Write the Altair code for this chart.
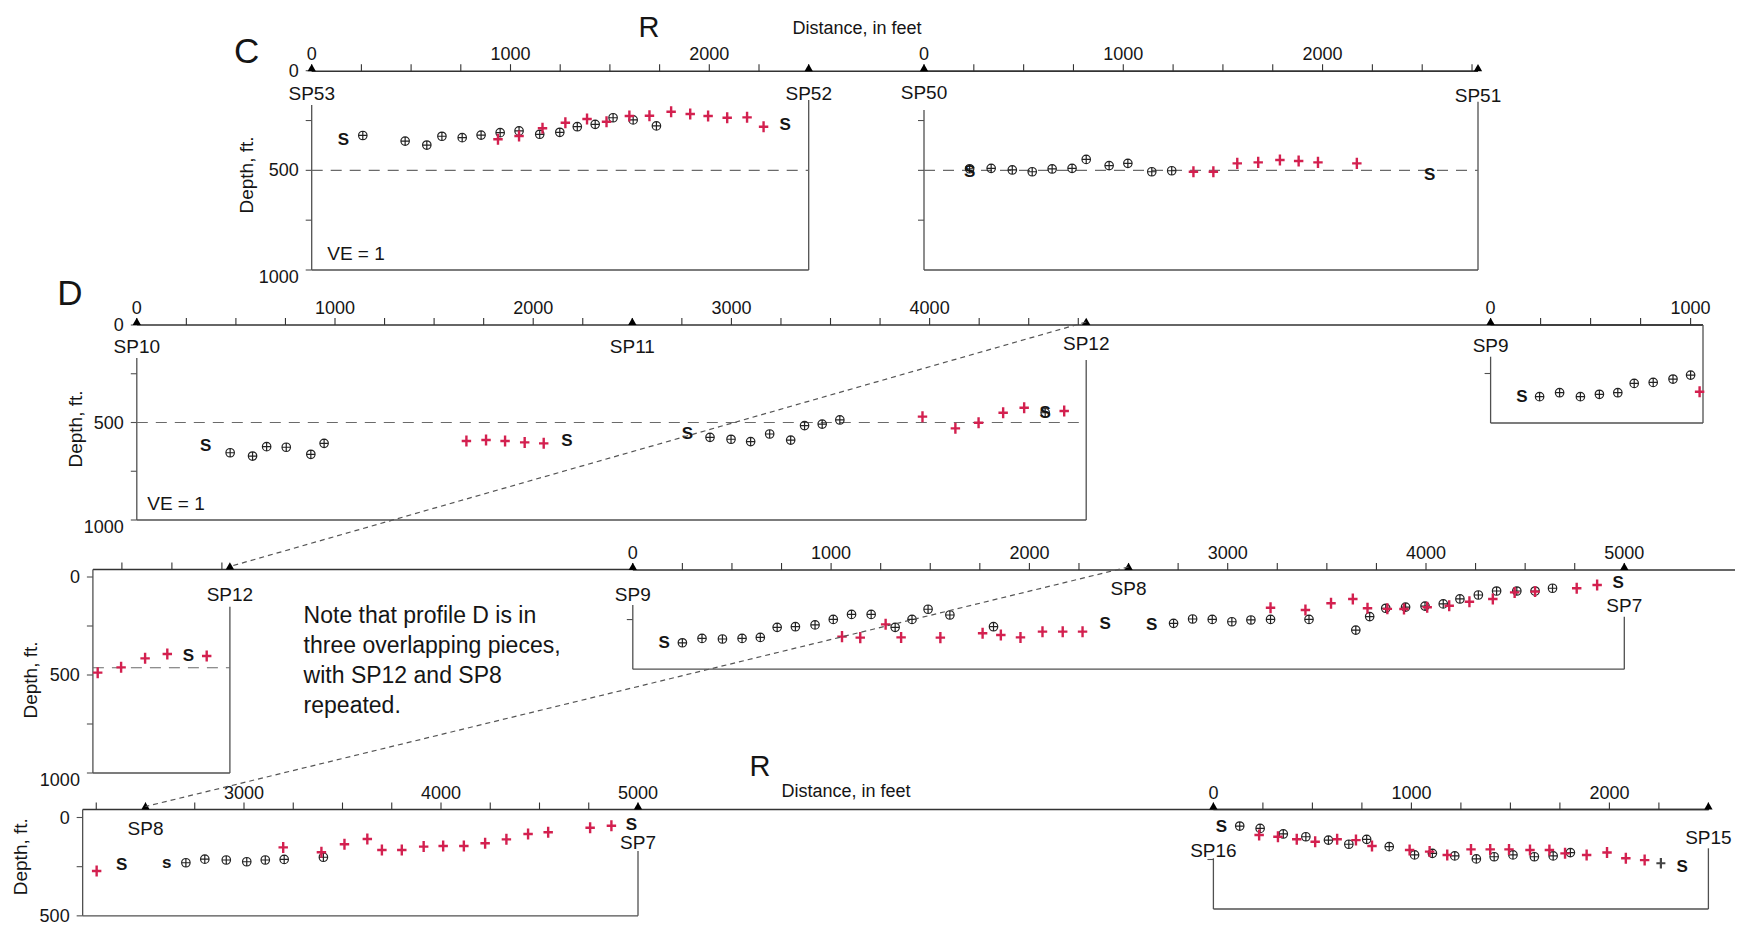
import altair as alt
import pandas as pd

OFF = 8            # page margin: the chart origin sits at page (8, 8)
W, H = 1727, 918

FONT = "Liberation Sans"
INK = "#151515"
AXIS = "#333333"
FRAME = "#505050"
DASH = "#6a6a6a"
RED = "#d3204f"
DARK = "#222222"
CIRC_PATH = "M-1,0A1,1 0 1,1 1,0A1,1 0 1,1 -1,0M-1,0L1,0M0,-1L0,1"
PLUS_PATH = "M-0.9,0L0.9,0M0,-1.05L0,1.05"

# ================= DATA (distance along profile in ft, depth in ft) =================
# Profile C, SP53 -> SP52
cl_circ_ft = [257, 470, 579, 655, 757, 852, 948, 1043, 1147, 1248, 1336, 1426, 1516, 1617, 1734]
cl_circ_d = [325, 353, 373, 329, 336, 323, 311, 302, 319, 309, 281, 269, 236, 247, 277]
cl_plus_ft = [937, 1043, 1161, 1276, 1385, 1483, 1598, 1699, 1808, 1904, 1994, 2090, 2190, 2273]
cl_plus_d = [344, 328, 289, 261, 242, 256, 227, 226, 206, 217, 227, 236, 234, 281]
cl_s_ft = [160, 2382]
cl_s_d = [348, 272]
cl_sp = ["SP53", "SP52"]
cl_sp_ft = [0, 2500]

# Profile C, SP50 -> SP51
cr_circ_ft = [229, 337, 443, 543, 643, 743, 814, 929, 1023, 1143, 1243]
cr_circ_d = [492, 490, 498, 507, 493, 490, 445, 476, 465, 507, 502]
cr_plus_ft = [1352, 1452, 1572, 1677, 1786, 1880, 1977, 2172]
cr_plus_d = [507, 507, 465, 460, 448, 453, 460, 465]
cr_s_ft = [229, 2537]
cr_s_d = [508, 523]
cr_sp = ["SP50", "SP51"]
cr_sp_ft = [0, 2780]

# Profile D, SP10 -> SP12
d1_circ_ft = [471, 584, 655, 754, 878, 945, 2892, 2998, 3097, 3193, 3299, 3369, 3458, 3547, 4583]
d1_circ_d = [655, 672, 624, 627, 663, 607, 576, 586, 598, 559, 590, 516, 508, 487, 450]
d1_plus_ft = [1663, 1762, 1858, 1957, 2053, 3964, 4130, 4247, 4371, 4477, 4679]
d1_plus_d = [595, 590, 595, 602, 607, 470, 530, 501, 450, 424, 441]
d1_s_ft = [347, 2170, 2778, 4583]
d1_s_d = [619, 595, 560, 453]
d1_sp = ["SP10", "SP11", "SP12"]
d1_sp_ft = [0, 2500, 4790]

# Profile D, SP9 start (row 2, right)
d2_circ_ft = [245, 345, 449, 544, 636, 718, 813, 912, 1000]
d2_circ_d = [367, 347, 367, 355, 347, 300, 295, 278, 258]
d2_plus_ft = [1045]
d2_plus_d = [342]
d2_s_ft = [157]
d2_s_d = [370]
d2_sp = ["SP9"]
d2_sp_ft = [0]

# Profile D, end of SP10-SP12 piece repeated (row 3, left)
r3s_plus_ft = [4129, 4246, 4366, 4477, 4674]
r3s_plus_d = [488, 461, 415, 393, 403]
r3s_s_ft = [4582]
r3s_s_d = [403]
r3s_sp = ["SP12"]
r3s_sp_ft = [4790]

# Profile D, SP9 -> SP7 (row 3)
r3b_circ_ft = [250, 349, 452, 551, 643, 728, 820, 919, 1011, 1103, 1202, 1323, 1408, 1489, 1599,
               1819, 2727, 2823, 2922, 3021, 3117, 3216, 3410, 3646, 3716, 3797, 3897, 3995, 4087,
               4171, 4264, 4356, 4458, 4550, 4638]
r3b_circ_d = [367, 345, 348, 345, 340, 289, 286, 277, 249, 224, 224, 289, 249, 198, 227,
              286, 269, 247, 249, 261, 252, 249, 249, 303, 235, 193, 187, 182, 171,
              146, 126, 106, 106, 106, 92]
r3b_plus_ft = [1055, 1147, 1275, 1353, 1551, 1764, 1856, 1955, 2066, 2168, 2268, 3216, 3392,
               3521, 3631, 3705, 3805, 3889, 4006, 4117, 4219, 4337, 4447, 4550, 4760, 4863]
r3b_plus_d = [336, 341, 274, 340, 341, 319, 328, 340, 311, 311, 311, 190, 202,
              168, 146, 193, 196, 197, 188, 180, 160, 146, 113, 109, 92, 76]
r3b_s_ft = [158, 2382, 2617, 4969]
r3b_s_d = [370, 272, 277, 67]
r3b_sp = ["SP9", "SP8", "SP7"]
r3b_sp_ft = [0, 2500, 5000]

# Profile D, SP8 -> SP7 (row 4, left)
r4l_circ_ft = [2705, 2801, 2910, 3014, 3108, 3204, 3403]
r4l_circ_d = [230, 212, 216, 225, 216, 213, 202]
r4l_plus_ft = [2252, 3199, 3393, 3510, 3626, 3700, 3801, 3912, 4011, 4116, 4224, 4332, 4442,
               4544, 4757, 4865]
r4l_plus_d = [272, 152, 177, 136, 109, 165, 165, 148, 145, 145, 131, 111, 84, 75, 52, 42]
r4l_s_ft = [2379, 4967]
r4l_s_d = [241, 36]
r4l_small_s_ft = [2608]
r4l_small_s_d = [230]
r4l_sp = ["SP8", "SP7"]
r4l_sp_ft = [2500, 5000]

# Profile SP16 -> SP15 (row 4, right)
r4r_circ_ft = [133, 236, 353, 467, 581, 684, 774, 888, 1016, 1106, 1219, 1328, 1418, 1513,
               1621, 1716, 1803]
r4r_circ_d = [81, 93, 121, 135, 152, 173, 148, 185, 227, 219, 232, 247, 236, 227, 236, 232, 215]
r4r_plus_ft = [231, 326, 421, 514, 625, 720, 801, 991, 1092, 1181, 1301, 1398, 1493, 1599,
               1697, 1776, 1885, 1988, 2083, 2178]
r4r_plus_d = [126, 135, 148, 160, 148, 152, 182, 202, 210, 227, 199, 199, 199, 202, 202,
              219, 227, 215, 244, 253]
r4r_dplus_ft = [2260]
r4r_dplus_d = [269]
r4r_s_ft = [41, 2368]
r4r_s_d = [88, 286]
r4r_sp = ["SP16", "SP15"]
r4r_sp_ft = [0, 2500]

# reference (dashed) depth lines
ref_depth = {"CL": 500, "CR": 500, "D1": 500, "R3S": 463}

DATA = {
    "CL": dict(circ=(cl_circ_ft, cl_circ_d), plus=(cl_plus_ft, cl_plus_d), s=(cl_s_ft, cl_s_d),
               sp=(cl_sp, cl_sp_ft)),
    "CR": dict(circ=(cr_circ_ft, cr_circ_d), plus=(cr_plus_ft, cr_plus_d), s=(cr_s_ft, cr_s_d),
               sp=(cr_sp, cr_sp_ft)),
    "D1": dict(circ=(d1_circ_ft, d1_circ_d), plus=(d1_plus_ft, d1_plus_d), s=(d1_s_ft, d1_s_d),
               sp=(d1_sp, d1_sp_ft)),
    "D2": dict(circ=(d2_circ_ft, d2_circ_d), plus=(d2_plus_ft, d2_plus_d), s=(d2_s_ft, d2_s_d),
               sp=(d2_sp, d2_sp_ft)),
    "R3S": dict(plus=(r3s_plus_ft, r3s_plus_d), s=(r3s_s_ft, r3s_s_d), sp=(r3s_sp, r3s_sp_ft)),
    "R3B": dict(circ=(r3b_circ_ft, r3b_circ_d), plus=(r3b_plus_ft, r3b_plus_d),
                s=(r3b_s_ft, r3b_s_d), sp=(r3b_sp, r3b_sp_ft)),
    "R4L": dict(circ=(r4l_circ_ft, r4l_circ_d), plus=(r4l_plus_ft, r4l_plus_d),
                s=(r4l_s_ft, r4l_s_d), small_s=(r4l_small_s_ft, r4l_small_s_d),
                sp=(r4l_sp, r4l_sp_ft)),
    "R4R": dict(circ=(r4r_circ_ft, r4r_circ_d), plus=(r4r_plus_ft, r4r_plus_d),
                dplus=(r4r_dplus_ft, r4r_dplus_d), s=(r4r_s_ft, r4r_s_d), sp=(r4r_sp, r4r_sp_ft)),
}

# ================= LAYOUT (page pixels) =================
GEOM = {
    "CL": dict(xa=(0, 311.7), xb=(2500, 808.7), xlo=0, x_end=1478.0,
               ya=(0, 70.7), yb=(1000, 270.0), ydom=(0, 1000), axis_y=71.2,
               right_ft=2500, ftop=(105, 100), xticks=list(range(0, 2501, 250)), xlabels=True,
               yticks=[0, 250, 500, 750, 1000], ylabels=True, ytitle=(248.3, 175),
               sp_y=[93.3, 93.0]),
    "CR": dict(xa=(0, 924.0), xb=(2780, 1478.0), xlo=0, x_end=1478.0,
               ya=(0, 70.7), yb=(1000, 270.0), ydom=(0, 1000), axis_y=71.2,
               right_ft=2780, ftop=(110, 101.7), xticks=list(range(0, 2751, 250)), xlabels=True,
               yticks=[250, 500, 750], ylabels=False, ytitle=None, sp_y=[91.7, 95.0]),
    "D1": dict(xa=(0, 136.8), xb=(4790, 1086.2), xlo=0, x_end=1703.0,
               ya=(0, 325.0), yb=(1000, 520.0), ydom=(0, 1000), axis_y=325.0,
               right_ft=4790, ftop=(358, 360), xticks=list(range(0, 4751, 250)), xlabels=True,
               yticks=[0, 250, 500, 750, 1000], ylabels=True, ytitle=(76.7, 429),
               sp_y=[345.5, 345.5, 343.0]),
    "D2": dict(xa=(0, 1490.6), xb=(1062, 1703.0), xlo=0, x_end=1703.0,
               ya=(0, 324.0), yb=(500, 423.0), ydom=(0, 500), axis_y=325.0,
               right_ft=1062, ftop=(356.7, 325.0), xticks=[0, 250, 500, 750, 1000], xlabels=True,
               yticks=[250], ylabels=False, ytitle=None, sp_y=[345.0]),
    "R3S": dict(xa=(4105, 92.9), xb=(4790, 229.9), xlo=4105, x_end=632.8,
                ya=(0, 577.0), yb=(1000, 773.0), ydom=(0, 1000), axis_y=569.5,
                right_ft=4790, ftop=(569.5, 606.7), xticks=[4250, 4500, 4750], xlabels=False,
                yticks=[0, 250, 500, 750, 1000], ylabels=True, ytitle=(31.7, 680),
                sp_y=[594.0]),
    "R3B": dict(xa=(0, 632.8), xb=(5000, 1624.3), xlo=0, x_end=1735.0,
                ya=(0, 570.0), yb=(500, 669.15), ydom=(0, 500), axis_y=570.0,
                right_ft=5000, ftop=(605, 616.7), xticks=list(range(0, 5001, 250)), xlabels=True,
                yticks=[250], ylabels=False, ytitle=None, sp_y=[594.0, 588.3, 605.0]),
    "R4L": dict(xa=(3000, 244.0), xb=(5000, 638.0), xlo=2181, x_end=1709.0,
                ya=(0, 817.5), yb=(500, 915.85), ydom=(0, 500), axis_y=809.5,
                right_ft=5000, ftop=(809.5, 851), xticks=list(range(2250, 5001, 250)), xlabels=True,
                yticks=[0, 250, 500], ylabels=True, ytitle=(21.7, 856.7), sp_y=[828.3, 842.0]),
    "R4R": dict(xa=(0, 1213.4), xb=(2500, 1708.4), xlo=0, x_end=1708.4,
                ya=(0, 810.0), yb=(500, 909.0), ydom=(0, 500), axis_y=809.5,
                right_ft=2500, ftop=(858.3, 848.3), xticks=list(range(0, 2501, 250)), xlabels=True,
                yticks=[250], ylabels=False, ytitle=None, sp_y=[850.0, 836.7]),
}

TRI_SIZE = 70
TRI_H = 0.866 * (TRI_SIZE ** 0.5) / 2
TICK = 7
YTICK = 6


def lin(a, b):
    (u0, p0), (u1, p1) = a, b
    k = (p1 - p0) / (u1 - u0)
    return (lambda u: p0 + (u - u0) * k), (lambda p: u0 + (p - p0) / k)


PX = {}


def txt(**kw):
    base = dict(font=FONT, fontSize=18, color=INK, align="center", baseline="middle")
    base.update(kw)
    return base


def panel(key):
    g = GEOM[key]
    d = DATA[key]
    fx, ix = lin(g["xa"], g["xb"])
    fy, iy = lin(g["ya"], g["yb"])
    PX[key] = (fx, fy)
    xlo, xhi = g["xlo"], ix(g["x_end"])
    ylo, yhi = g["ydom"]
    xs = alt.Scale(domain=[xlo, xhi], range=[fx(xlo) - OFF, fx(xhi) - OFF], nice=False, zero=False)
    ys = alt.Scale(domain=[ylo, yhi], range=[fy(ylo) - OFF, fy(yhi) - OFF], nice=False, zero=False)

    def X(f):
        return alt.X(f, scale=xs, axis=None)

    def Y(f):
        return alt.Y(f, scale=ys, axis=None)

    off = g["axis_y"] - fy(0)      # pixel gap between the distance axis and depth 0
    left_px = fx(xlo)
    rf = g["right_ft"]
    L = []

    # --- distance axis (top) ---
    dl = pd.DataFrame({"a": [xlo], "b": [xhi], "d": [0]})
    L.append(alt.Chart(dl).mark_rule(color=AXIS, strokeWidth=1.4, yOffset=off).encode(
        x=X("a:Q"), x2="b:Q", y=Y("d:Q")))
    tk = pd.DataFrame({"ft": g["xticks"], "d": [0] * len(g["xticks"])})
    L.append(alt.Chart(tk).mark_rule(color=AXIS, strokeWidth=1.1, yOffset=off,
                                     y2Offset=off - TICK).encode(
        x=X("ft:Q"), y=Y("d:Q"), y2="d:Q"))
    if g["xlabels"]:
        labs = [v for v in g["xticks"] if v % 1000 == 0]
        lf = pd.DataFrame({"ft": labs, "d": [0] * len(labs), "t": [str(v) for v in labs]})
        L.append(alt.Chart(lf).mark_text(**txt(dy=off - 16)).encode(
            x=X("ft:Q"), y=Y("d:Q"), text="t:N"))

    # --- depth axis (left) ---
    yt = pd.DataFrame({"x": [xlo] * len(g["yticks"]), "d": g["yticks"]})
    L.append(alt.Chart(yt).mark_rule(color=FRAME, strokeWidth=1.1, x2Offset=-YTICK).encode(
        x=X("x:Q"), x2="x:Q", y=Y("d:Q")))
    if g["ylabels"]:
        for v in [t for t in g["yticks"] if t % 500 == 0]:
            yl = pd.DataFrame({"x": [xlo], "d": [v], "t": [str(v)]})
            L.append(alt.Chart(yl).mark_text(**txt(align="right", dx=-(YTICK + 7),
                                                    dy=1 + (7 if v == 1000 else 0))).encode(
                x=X("x:Q"), y=Y("d:Q"), text="t:N"))
    if g["ytitle"]:
        tx, ty = g["ytitle"]
        tf = pd.DataFrame({"x": [xlo], "d": [0], "t": ["Depth, ft."]})
        L.append(alt.Chart(tf).mark_text(**txt(angle=270, fontSize=19, xOffset=tx - left_px - 1,
                                                yOffset=ty - fy(0))).encode(
            x=X("x:Q"), y=Y("d:Q"), text="t:N"))

    # --- panel frame ---
    vf = pd.DataFrame({"ft": [xlo, rf], "top": [iy(g["ftop"][0]), iy(g["ftop"][1])],
                       "bot": [yhi, yhi]})
    L.append(alt.Chart(vf).mark_rule(color=FRAME, strokeWidth=1.3).encode(
        x=X("ft:Q"), y=Y("top:Q"), y2="bot:Q"))
    bf = pd.DataFrame({"a": [xlo], "b": [rf], "d": [yhi]})
    L.append(alt.Chart(bf).mark_rule(color=FRAME, strokeWidth=1.3).encode(
        x=X("a:Q"), x2="b:Q", y=Y("d:Q")))
    if key in ref_depth:
        df = pd.DataFrame({"a": [xlo], "b": [rf], "d": [ref_depth[key]]})
        L.append(alt.Chart(df).mark_rule(color=DASH, strokeWidth=1.2, strokeDash=[11, 8]).encode(
            x=X("a:Q"), x2="b:Q", y=Y("d:Q")))

    # --- data ---
    def pts(pair):
        return pd.DataFrame({"ft": pair[0], "d": pair[1]})

    def enc(ch):
        return ch.encode(x=X("ft:Q"), y=Y("d:Q"))

    if "circ" in d:
        L.append(enc(alt.Chart(pts(d["circ"])).mark_point(
            shape=CIRC_PATH, filled=False, stroke=DARK, strokeWidth=1.2, size=72, opacity=1)))
    if "plus" in d:
        L.append(enc(alt.Chart(pts(d["plus"])).mark_point(
            shape=PLUS_PATH, filled=False, stroke=RED, strokeWidth=2.4, size=110, opacity=1)))
    if "dplus" in d:
        L.append(enc(alt.Chart(pts(d["dplus"])).mark_point(
            shape=PLUS_PATH, filled=False, stroke="#444444", strokeWidth=2.2, size=100, opacity=1)))
    if "s" in d:
        L.append(enc(alt.Chart(pts(d["s"])).mark_text(
            **txt(text="S", fontSize=17, fontWeight="bold"))))
    if "small_s" in d:
        L.append(enc(alt.Chart(pts(d["small_s"])).mark_text(
            **txt(text="s", fontSize=17, fontWeight="bold"))))

    # --- shot points ---
    names, sfts = d["sp"]
    tri = pd.DataFrame({"ft": sfts, "d": [0] * len(sfts)})
    L.append(enc(alt.Chart(tri).mark_point(
        shape="triangle-up", filled=True, color="#000000", size=TRI_SIZE, opacity=1,
        yOffset=off - TRI_H)))
    for name, sft, ly in zip(names, sfts, g["sp_y"]):
        lab = pd.DataFrame({"ft": [sft], "d": [0], "t": [name]})
        L.append(alt.Chart(lab).mark_text(**txt(fontSize=19, dy=ly - fy(0) + 1)).encode(
            x=X("ft:Q"), y=Y("d:Q"), text="t:N"))
    return alt.layer(*L)


def ann(text, x, y, size, align="center"):
    df = pd.DataFrame({"t": [text]})
    return alt.Chart(df).mark_text(**txt(align=align, fontSize=size)).encode(
        text="t:N", x=alt.value(x - OFF), y=alt.value(y - OFF + 0.06 * size))


panels = [panel(k) for k in GEOM]


# dashed connectors linking the repeated shot points
def connector(k1, k2, ft):
    fx1, _ = PX[k1]
    fx2, _ = PX[k2]
    x1, y1 = fx1(ft), GEOM[k1]["axis_y"] - 3
    x2, y2 = fx2(ft), GEOM[k2]["axis_y"] - 3
    df = pd.DataFrame({"k": [0]})
    return alt.Chart(df).mark_rule(color="#555555", strokeWidth=1.2, strokeDash=[5, 4]).encode(
        x=alt.value(x1 - OFF), y=alt.value(y1 - OFF), x2=alt.value(x2 - OFF), y2=alt.value(y2 - OFF))


extras = [
    connector("D1", "R3S", 4790),
    connector("R3B", "R4L", 2500),
    ann("C", 246.7, 50, 35),
    ann("R", 649, 26, 29),
    ann("Distance, in feet", 857, 28, 18),
    ann("D", 70, 292, 35),
    ann("VE = 1", 356, 253.3, 19),
    ann("VE = 1", 176, 503.3, 19),
    ann("Note that profile D is in", 303.6, 615, 23, "left"),
    ann("three overlapping pieces,", 303.6, 645, 23, "left"),
    ann("with SP12 and SP8", 303.6, 674.5, 23, "left"),
    ann("repeated.", 303.6, 704.5, 23, "left"),
    ann("R", 760, 765, 29),
    ann("Distance, in feet", 846, 791, 18),
]

chart = alt.layer(*panels, *extras).resolve_scale(
    x="independent", y="independent"
).properties(
    width=W, height=H, padding=0, autosize=alt.AutoSizeParams(type="none"), background="white"
).configure_view(strokeWidth=0)

chart.save("out.html", embed_options={"renderer": "svg", "actions": False})
